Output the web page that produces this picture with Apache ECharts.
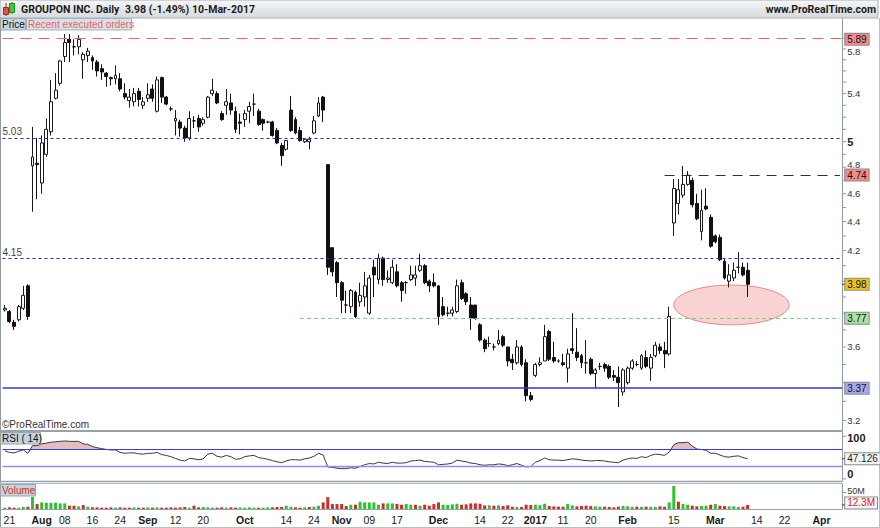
<!DOCTYPE html>
<html><head><meta charset="utf-8">
<script src="https://cdn.jsdelivr.net/npm/echarts@6/dist/echarts.min.js"></script>
<style>html,body{margin:0;padding:0;background:#fff}#c{width:880px;height:528px}</style>
</head><body><div id="c"></div>
<script>
// ---------- DATA ----------
const holidays = ['2016-09-05','2016-11-24','2016-12-26','2017-01-02','2017-01-16','2017-02-20'];
const opens = [
3.82,3.81,3.745,3.76,3.83,3.97,4.81,4.83,4.68,4.90,
5.08,5.36,5.49,5.73,5.89,5.82,5.82,5.70,5.74,5.72,
5.68,5.62,5.58,5.54,5.53,5.53,5.40,5.34,5.33,5.42,
5.30,5.36,5.44,5.25,5.54,5.37,5.27,5.17,5.16,5.11,
5.03,5.17,5.19,5.15,5.20,5.40,5.40,5.23,5.30,5.32,
5.25,5.16,5.18,5.25,5.31,5.25,5.18,5.16,5.16,5.09,
4.97,4.94,5.26,5.18,5.09,5.00,5.00,5.07,5.21,5.37,
4.82,4.22,4.12,3.99,3.85,3.84,3.93,3.87,3.90,3.80,
4.09,4.01,4.15,4.01,3.99,4.06,3.99,3.99,4.01,4.02,
4.07,4.10,4.00,3.99,3.97,3.84,3.80,3.80,3.81,3.99,
3.92,3.85,3.85,3.73,3.64,3.62,3.60,3.62,3.66,3.60,
3.53,3.51,3.60,3.51,3.33,3.44,3.50,3.52,3.69,3.54,
3.52,3.51,3.48,3.59,3.57,3.55,3.51,3.53,3.45,3.49,
3.50,3.49,3.44,3.43,3.35,3.40,3.48,3.50,3.48,3.54,
3.48,3.55,3.60,3.58,3.56,4.39,4.53,4.59,4.67,4.70,
4.53,4.33,4.51,4.43,4.30,4.29,4.13,4.00,4.02,4.09,
4.09,4.07];
const highs = [
3.85,3.82,3.76,3.85,3.97,3.98,5.12,5.03,5.05,5.19,
5.52,5.58,5.70,5.94,5.94,5.89,5.93,5.77,5.81,5.74,
5.70,5.66,5.59,5.55,5.65,5.58,5.49,5.44,5.45,5.45,
5.37,5.49,5.48,5.55,5.55,5.38,5.29,5.26,5.18,5.13,
5.25,5.21,5.22,5.20,5.38,5.53,5.42,5.25,5.44,5.40,
5.29,5.23,5.26,5.33,5.40,5.27,5.19,5.17,5.17,5.11,
4.99,5.01,5.38,5.20,5.12,5.03,5.04,5.21,5.37,5.38,
4.82,4.22,4.13,4.00,3.94,3.95,3.94,3.99,4.06,4.04,
4.14,4.18,4.16,4.07,4.14,4.11,4.00,4.00,4.10,4.10,
4.18,4.11,4.01,4.05,3.97,3.90,3.84,3.84,4.01,4.01,
3.93,3.90,3.85,3.74,3.65,3.66,3.62,3.70,3.67,3.60,
3.56,3.64,3.61,3.53,3.35,3.51,3.54,3.73,3.70,3.63,
3.53,3.56,3.59,3.80,3.71,3.56,3.64,3.54,3.48,3.51,
3.51,3.50,3.47,3.49,3.48,3.49,3.53,3.52,3.56,3.58,
3.56,3.63,3.62,3.63,3.84,4.71,4.71,4.81,4.77,4.72,
4.60,4.63,4.64,4.45,4.31,4.31,4.15,4.11,4.12,4.19,
4.12,4.12];
const lows = [
3.81,3.74,3.70,3.75,3.82,3.76,4.47,4.56,4.60,4.88,
5.05,5.35,5.47,5.68,5.68,5.74,5.75,5.53,5.68,5.61,
5.55,5.52,5.46,5.47,5.48,5.42,5.35,5.28,5.29,5.29,
5.27,5.33,5.33,5.24,5.32,5.30,5.25,5.05,5.04,5.00,
5.01,5.11,5.08,5.13,5.19,5.38,5.31,5.17,5.22,5.22,
5.07,5.06,5.12,5.15,5.21,5.13,5.09,5.15,5.04,4.98,
4.81,4.93,5.08,5.06,5.00,4.99,4.94,5.06,5.20,5.16,
4.04,4.03,3.90,3.80,3.80,3.80,3.77,3.84,3.84,3.79,
3.90,3.98,3.97,3.99,3.98,3.96,3.87,3.92,4.00,3.97,
4.06,3.98,3.93,3.96,3.73,3.78,3.78,3.78,3.80,3.88,
3.85,3.70,3.76,3.63,3.57,3.60,3.58,3.61,3.60,3.49,
3.47,3.50,3.49,3.30,3.30,3.43,3.49,3.52,3.52,3.51,
3.51,3.49,3.40,3.56,3.52,3.48,3.45,3.44,3.37,3.47,
3.46,3.42,3.41,3.27,3.33,3.39,3.47,3.49,3.47,3.48,
3.41,3.54,3.56,3.48,3.55,4.30,4.45,4.57,4.66,4.50,
4.41,4.27,4.48,4.22,4.25,4.13,4.01,3.96,4.00,4.05,
4.03,3.90];
const closes = [
3.83,3.75,3.72,3.84,3.91,3.78,4.88,4.82,4.99,5.10,
5.33,5.43,5.69,5.86,5.86,5.82,5.89,5.75,5.78,5.69,
5.60,5.59,5.55,5.53,5.56,5.44,5.37,5.37,5.40,5.35,
5.33,5.39,5.36,5.52,5.37,5.31,5.27,5.19,5.11,5.03,
5.19,5.17,5.12,5.18,5.37,5.43,5.32,5.18,5.33,5.26,
5.10,5.15,5.23,5.29,5.31,5.14,5.15,5.16,5.05,4.99,
4.89,5.01,5.09,5.07,5.01,5.02,5.02,5.17,5.32,5.26,
4.09,4.06,3.99,3.88,3.85,3.94,3.78,3.91,3.97,4.02,
4.04,4.15,4.01,4.02,4.09,3.97,3.94,3.99,4.04,4.04,
4.10,3.99,3.97,3.97,3.78,3.79,3.80,3.82,3.97,3.89,
3.87,3.77,3.77,3.64,3.59,3.62,3.60,3.64,3.61,3.52,
3.51,3.60,3.50,3.33,3.31,3.50,3.51,3.66,3.53,3.52,
3.52,3.50,3.56,3.58,3.54,3.51,3.51,3.45,3.47,3.49,
3.48,3.43,3.43,3.40,3.47,3.48,3.52,3.50,3.55,3.49,
3.54,3.61,3.58,3.56,3.78,4.64,4.63,4.67,4.74,4.52,
4.42,4.48,4.49,4.23,4.26,4.14,4.02,4.04,4.07,4.09,
4.04,3.98];
const volumeM = [
4,5,4,4,6,7,37,15,20,19,
19,19,17,17,10,10,8,12,7,5,
5,4,4,5,4,5,4,4,5,4,
4,5,4,5,4,4,5,4,5,6,
4,10,5,6,5,4,4,5,4,5,
4,5,4,5,4,4,4,5,5,6,
6,10,7,5,4,5,6,7,10,20,
36,15,15,15,9,13,13,22,20,20,
20,13,17,17,17,15,13,15,13,13,
10,13,10,15,20,13,12,14,16,13,
14,17,17,16,11,11,10,11,9,11,
7,6,6,13,12,13,12,16,9,8,
7,7,15,11,8,9,10,9,8,7,
7,6,5,7,9,8,7,7,6,7,
7,6,8,7,20,70,22,15,13,10,
8,9,10,13,15,10,9,8,8,6,
7,12.3];
const rsi14 = [
66,62,61,65,68,60,78,78,82,84,
86,87,88,89,88,88,88,82,81,76,
73,71,69,68,68,62,60,61,61,59,
58,60,60,62,57,55,52,48,44,42,
48,47,45,47,58,60,53,51,55,52,
46,47,52,54,55,50,48,46,43,40,
38,42,45,45,44,47,49,53,60,56,
28,27,25,24,24,26,25,29,33,36,
35,39,37,36,39,37,37,38,42,43,
44,41,40,39,33,34,35,37,44,42,
40,37,36,33,32,33,33,35,34,31,
33,36,32,28,29,39,43,49,45,44,
44,43,45,47,46,44,43,42,43,43,
42,40,39,38,44,47,49,48,52,50,
55,58,57,55,63,80,85,85,86,77,
70,69,67,60,60,56,52,51,53,54,
50,47.126];
const tickLabels = [
['2016-07-21','21',0],['2016-08-01','Aug',1],['2016-08-08','08',0],['2016-08-16','16',0],['2016-08-24','24',0],
['2016-09-01','Sep',1],['2016-09-12','12',0],['2016-09-20','20',0],['2016-10-03','Oct',1],['2016-10-14','14',0],
['2016-10-24','24',0],['2016-11-01','Nov',1],['2016-11-09','09',0],['2016-11-17','17',0],['2016-12-01','Dec',1],
['2016-12-14','14',0],['2016-12-22','22',0],['2017-01-03','2017',1],['2017-01-11','11',0],['2017-01-20','20',0],
['2017-02-01','Feb',1],['2017-02-15','15',0],['2017-03-01','Mar',1],['2017-03-14','14',0],['2017-03-22','22',0],
['2017-04-03','Apr',1]];
// price-axis labels that are visible in the reference (4, 3.8 and 3.4 sit behind the value boxes)
const priceLabelVals = [5.8,5.4,5,4.8,4.6,4.4,4.2,3.6,3.2];
const priceTickVals = [5.9,5.8,5.7,5.6,5.5,5.4,5.3,5.2,5.1,5.0,4.9,4.8,4.7,4.6,4.5,4.4,4.3,4.2,4.1,4.0,3.9,3.8,3.7,3.6,3.5,3.4,3.3,3.2];
const highLevel = 5.89;

// ---------- CATEGORIES ----------
const dates = [];
for (let t = Date.UTC(2016,6,20); t <= Date.UTC(2017,3,7); t += 86400000) {
  const d = new Date(t); const wd = d.getUTCDay();
  if (wd === 0 || wd === 6) continue;
  const s = d.toISOString().slice(0,10);
  if (holidays.includes(s)) continue;
  dates.push(s);
}
const labelMap = new Map(tickLabels.map(t => [t[0], {text:t[1], bold:t[2]}]));
const candles = opens.map((o,i) => [o, closes[i], lows[i], highs[i]]);
const volData = volumeM.map((v,i) => ({value:v, itemStyle:{color: (i>0 && closes[i] > closes[i-1]) || (i===0 && closes[0]>=opens[0]) ? '#2fc22f' : '#d12a2a'}}));
const rsiUpBase = rsi14.map(v => Math.min(v,70));
const rsiUpTop = rsi14.map(v => Math.max(v-70,0));
const rsiDnBase = rsi14.map(v => Math.min(v,30));
const rsiDnTop = rsi14.map(v => 30 - Math.min(v,30));

const FF = '"Liberation Sans", Arial, sans-serif';
const HF = 'Roboto, "Liberation Sans", sans-serif';
const L = 2.5, R = 37.8;
const idx = s => dates.indexOf(s);

const hiddenCat = gi => ({type:'category', gridIndex:gi, data:dates, boundaryGap:true,
  axisLine:{show:false, onZero:false}, axisTick:{show:false}, axisLabel:{show:false}, splitLine:{show:false}, splitArea:{show:false}});
const axisLineStyle = {show:true, lineStyle:{color:'#8f9ba4', width:1}};

const option = {
  animation:false,
  backgroundColor:'#ffffff',
  grid:[
    {left:L, right:R, top:19, height:412, show:false},
    {left:L, right:R, top:432, height:49, show:false},
    {left:L, right:R, top:484, height:25, show:false}
  ],
  xAxis:[
    hiddenCat(0), hiddenCat(1),
    Object.assign(hiddenCat(2), {axisLabel:{show:true, margin:5, interval:(i,v)=>labelMap.has(v),
      formatter:v => { const l = labelMap.get(v); return l ? (l.bold ? '{b|'+l.text+'}' : '{n|'+l.text+'}') : ''; },
      rich:{b:{fontWeight:'bold', fontSize:10.5, fontFamily:FF, color:'#1a1a1a'},
            n:{fontSize:10.5, fontFamily:FF, color:'#1a1a1a'}}}})
  ],
  yAxis:[
    {type:'log', logBase:10, gridIndex:0, position:'right', min:3.147, max:6.085,
      axisLine:axisLineStyle, axisTick:{show:false}, axisLabel:{show:false}, splitLine:{show:false}},
    {type:'value', gridIndex:1, position:'right', min:-5, max:110,
      axisLine:axisLineStyle, axisTick:{show:false}, axisLabel:{show:false}, splitLine:{show:false}},
    {type:'value', gridIndex:2, position:'right', min:0, max:76,
      axisLine:axisLineStyle, axisTick:{show:false}, axisLabel:{show:false}, splitLine:{show:false}}
  ],
  series:[
    {type:'candlestick', xAxisIndex:0, yAxisIndex:0, data:candles, barWidth:3.4,
      itemStyle:{color:'#ffffff', color0:'#111111', borderColor:'#1a1a1a', borderColor0:'#111111', borderWidth:1},
      markLine:{silent:true, symbol:['none','none'], animation:false, label:{show:false},
        data:[
          {yAxis:5.03, lineStyle:{color:'#2b2be6', type:[3,3], width:1},
            label:{show:true, position:'insideStartTop', formatter:'5.03', color:'#444', fontSize:10, fontFamily:FF, distance:[0,1]}},
          {yAxis:4.15, lineStyle:{color:'#2b2be6', type:[3,3], width:1},
            label:{show:true, position:'insideStartTop', formatter:'4.15', color:'#444', fontSize:10, fontFamily:FF, distance:[0,1]}},
          {yAxis:3.37, lineStyle:{color:'#3636e3', type:'solid', width:1.5}},
          [{coord:[idx('2017-02-13'),4.74], lineStyle:{color:'#333', type:[10,7], width:1}},
           {coord:[dates.length-1,4.74], lineStyle:{color:'#333', type:[10,7], width:1}}],
          [{coord:[idx('2016-10-19'),3.77], lineStyle:{color:'#7fcf7f', type:[4,3], width:1.2}},
           {coord:[dates.length-1,3.77], lineStyle:{color:'#7fcf7f', type:[4,3], width:1.2}}]
        ]}},
    {type:'line', xAxisIndex:1, yAxisIndex:1, data:rsiUpBase, stack:'up', symbol:'none',
      lineStyle:{opacity:0, width:0}, silent:true},
    {type:'line', xAxisIndex:1, yAxisIndex:1, data:rsiUpTop, stack:'up', symbol:'none',
      lineStyle:{opacity:0, width:0}, areaStyle:{color:'rgba(185,100,100,0.6)'}, silent:true},
    {type:'line', xAxisIndex:1, yAxisIndex:1, data:rsiDnBase, stack:'dn', symbol:'none',
      lineStyle:{opacity:0, width:0}, silent:true},
    {type:'line', xAxisIndex:1, yAxisIndex:1, data:rsiDnTop, stack:'dn', symbol:'none',
      lineStyle:{opacity:0, width:0}, areaStyle:{color:'rgba(110,110,225,0.35)'}, silent:true},
    {type:'line', xAxisIndex:1, yAxisIndex:1, data:rsi14, symbol:'none', silent:true,
      lineStyle:{color:'#3a3a3a', width:1},
      markLine:{silent:true, symbol:['none','none'], animation:false, label:{show:false},
        data:[{yAxis:70, lineStyle:{color:'#3a3ae6', width:1, type:'solid'}},
              {yAxis:30, lineStyle:{color:'#8e8ef0', width:1.3, type:'solid'}}]}},
    {type:'bar', xAxisIndex:2, yAxisIndex:2, data:volData, barWidth:3, silent:true}
  ]
};

const chart = echarts.init(document.getElementById('c'), null, {renderer:'svg', width:880, height:528});
chart.setOption(option);

// ---------- DECORATION (positions via library scales) ----------
const py = v => chart.convertToPixel({yAxisIndex:0}, v);
const ry = v => chart.convertToPixel({yAxisIndex:1}, v);
const vy = v => chart.convertToPixel({yAxisIndex:2}, v);
const px = i => chart.convertToPixel({xAxisIndex:0}, i);
const AX = px(dates.length-1) + 2.3;
const X0 = px(0) - 2.3;

const g = [];
const txt = (x,y,text,o) => g.push(Object.assign({type:'text', x:x, y:y, silent:true, z:50,
  style:Object.assign({text:text, fontFamily:FF, fontSize:10, fill:'#222', verticalAlign:'middle'}, o||{})}));
const line = (x1,y1,x2,y2,stroke,w,dash,z) => g.push({type:'line', silent:true, z:(z==null?40:z), shape:{x1,y1,x2,y2},
  style:Object.assign({stroke, lineWidth:w||1}, dash ? {lineDash:dash} : {})});
const box = (x,y,text,bg,fg) => txt(x,y,text,{backgroundColor:bg, borderColor:'#8a8a8a', borderWidth:1, padding:[1,2,0,2], fill:fg||'#111', fontSize:10});

// header
g.push({type:'rect', silent:true, shape:{x:0,y:0,width:878,height:18},
  style:{fill:{type:'linear',x:0,y:0,x2:0,y2:1,colorStops:[{offset:0,color:'#f5f6f7'},{offset:1,color:'#d5dade'}]}, stroke:'#a7b0b7', lineWidth:1}});
line(6,3,6,16,'#a02a2a',1); g.push({type:'rect', silent:true, z:41, shape:{x:3.5,y:7.5,width:5,height:7}, style:{fill:'#e4504a', stroke:'#a02a2a', lineWidth:1}});
line(12,2,12,14,'#1e8a1e',1); g.push({type:'rect', silent:true, z:41, shape:{x:9.5,y:3.5,width:5,height:9}, style:{fill:'#3ccc3c', stroke:'#1e8a1e', lineWidth:1}});
const hdr = {fontWeight:'bold', fontSize:10.5, fill:'#1c1c1c', fontFamily:HF};
txt(21,9.5,'GROUPON INC.',hdr);
txt(96,9.5,'Daily',hdr);
txt(125,9.5,'3.98 (-1.49%)',hdr);
txt(192,9.5,'10-Mar-2017',hdr);
txt(876,9.5,'www.ProRealTime.com',Object.assign({align:'right'},hdr));

// tabs
g.push({type:'rect', silent:true, z:41, shape:{x:0.5,y:18.5,width:25,height:11.5}, style:{fill:'#c9d5de', stroke:'#9aa6af', lineWidth:1}});
txt(2,24.5,'Price',{fill:'#111'});
g.push({type:'rect', silent:true, z:41, shape:{x:26.5,y:18.5,width:105,height:11.5}, style:{fill:'#d8e0e6', stroke:'#aab4bb', lineWidth:1}});
txt(28,24.5,'Recent executed orders',{fill:'#e86565'});

// 5.89 high level (red dashed), positioned through the price scale, drawn on top
const yHigh = Math.round(py(highLevel)) - 0.5;
line(X0, yHigh, AX, yHigh, '#ef6262', 1, [11,7], 60);

// frame
line(0.5,18,0.5,528,'#8f9ba4',1);
line(879.5,18,879.5,528,'#b9c1c7',1);
line(0,527.5,880,527.5,'#b9c1c7',1);

// panel separators
line(0,431,AX,431,'#97a3ac',2);
line(0,481.5,AX,481.5,'#97a3ac',1.5);
line(0,483.5,AX,483.5,'#b3bcc3',1);
line(0,509.5,AX,509.5,'#97a3ac',1);

// ellipse annotation
const ex1 = px(idx('2017-02-15')), ex2 = px(idx('2017-03-23'));
const ey1 = py(3.975), ey2 = py(3.73);
g.push({type:'ellipse', silent:true, z:1, shape:{cx:(ex1+ex2)/2, cy:(ey1+ey2)/2, rx:(ex2-ex1)/2, ry:(ey2-ey1)/2},
  style:{fill:'rgba(238,140,140,0.38)', stroke:'#e58a8a', lineWidth:1}});

// price axis ticks and labels
priceTickVals.forEach(v => line(AX, py(v), AX+4, py(v), '#8f9ba4', 1));
const labelNudge = {5.8:3, 4.8:-3};
priceLabelVals.forEach(v => txt(AX+5, py(v) + (labelNudge[v]||0), String(v),
  v===5 ? {fontWeight:'bold', fontSize:11, fill:'#222'} : {fill:'#333', fontSize:9.5}));
txt(2,424,'\u00A9ProRealTime.com',{fill:'#333', fontSize:10});

// price boxes
box(AX+3, py(5.89), '5.89', '#f28b8b');
box(AX+3, py(4.74), '4.74', '#f28b8b');
line(AX, py(3.98), AX+4, py(3.98), '#222', 1);
box(AX+3, py(3.98), '3.98', '#f3c31a');
box(AX+3, py(3.77), '3.77', '#a9e2a3');
box(AX+3, py(3.37), '3.37', '#a7a7ef');

// RSI panel
g.push({type:'rect', silent:true, z:41, shape:{x:0.5,y:432.5,width:40,height:11.5}, style:{fill:'#c6d3dd', stroke:'#9aa6af', lineWidth:1}});
txt(2,438.5,'RSI ( 14)',{fill:'#111'});
line(AX, ry(100), AX+4, ry(100), '#8f9ba4', 1);
line(AX, ry(0), AX+4, ry(0), '#8f9ba4', 1);
txt(AX+5, ry(100)+1.5, '100', {fontWeight:'bold', fontSize:11});
txt(AX+5, ry(0)-4.5, '0', {fontWeight:'bold', fontSize:11});
line(AX, ry(47.126), AX+4, ry(47.126), '#222', 1);
txt(AX+3, ry(47.126), '47.126', {backgroundColor:'#f4f6f7', borderColor:'#8a8a8a', borderWidth:1, padding:[1,2,0,2], fill:'#222', fontSize:10});

// Volume panel
g.push({type:'rect', silent:true, z:41, shape:{x:0.5,y:484.5,width:35,height:11.5}, style:{fill:'#c6d3dd', stroke:'#9aa6af', lineWidth:1}});
txt(2,490.5,'Volume',{fill:'#d42a2a'});
line(AX, vy(50), AX+4, vy(50), '#8f9ba4', 1);
txt(AX+5, vy(50)-2, '50M', {fill:'#333', fontSize:9});
line(AX, vy(12.3), AX+4, vy(12.3), '#d42a2a', 1.5);
txt(AX+3, vy(12.3)-2, '12.3M', {backgroundColor:'#f4f6f7', borderColor:'#8a8a8a', borderWidth:1, padding:[1,2,0,2], fill:'#e02020', fontSize:10});

chart.setOption({graphic:g});
</script></body></html>
